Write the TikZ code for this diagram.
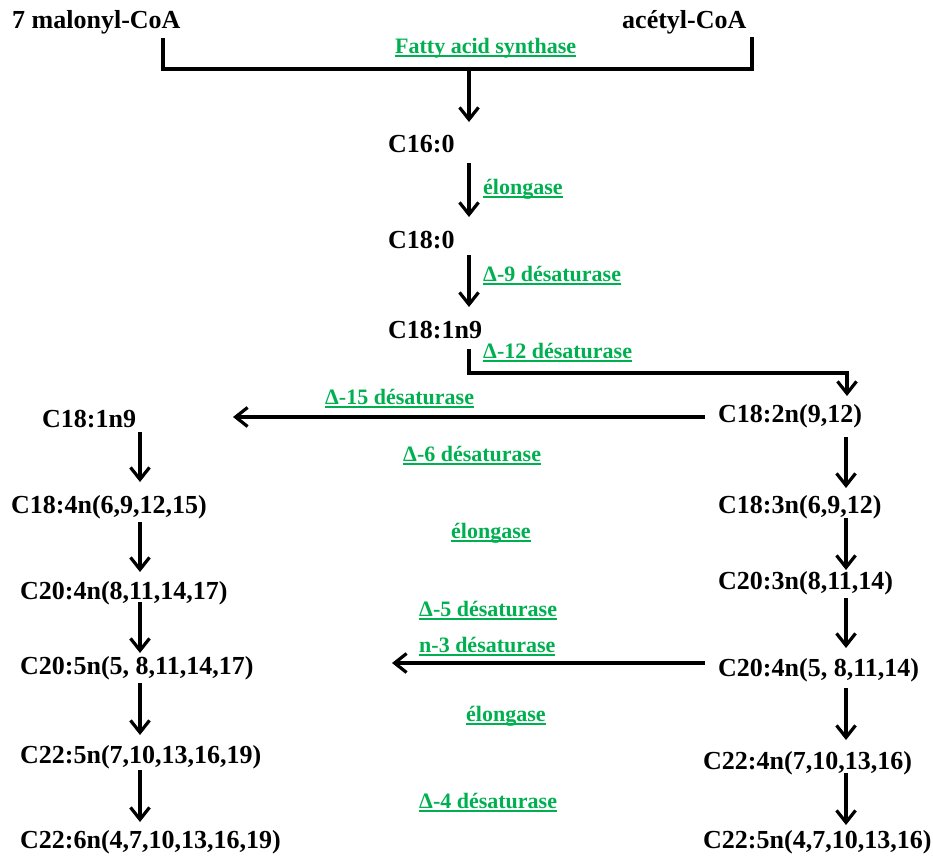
\documentclass[tikz,border=0pt]{standalone}
\usepackage{fontspec}
\setmainfont{Liberation Serif}
\usetikzlibrary{arrows.meta}
\definecolor{fasgreen}{RGB}{0,176,80}
\newcommand\ulx[1]{\setbox0\hbox{#1}\rlap{\rule[-3.5pt]{\wd0}{2pt}}\box0}
\begin{document}
\begin{tikzpicture}[x=1pt,y=-1pt,
  blk/.style={font=\bfseries\fontsize{26}{30}\selectfont, inner sep=0pt, anchor=base west},
  grn/.style={font=\bfseries\fontsize{22}{26}\selectfont, text=fasgreen, inner sep=0pt, anchor=base west},
  ln/.style={line width=3.2pt, black},
  arr/.style={ln, -{Straight Barb[length=12pt,width=19pt,line width=3.2pt]}}]
\useasboundingbox (0,0) rectangle (933,861);
% substrates
\node[blk] (mal) at (12,29) {7 malonyl-CoA};
\node[blk] (ace) at (622,29) {acétyl-CoA};
\node[grn] (fas) at (395,54) {\ulx{Fatty acid synthase}};
% central chain
\node[blk] (c160) at (388,153) {C16:0};
\node[blk] (c180) at (388,248) {C18:0};
\node[blk] (c181) at (388,338) {C18:1n9};
\node[grn] (e1) at (483,194) {\ulx{élongase}};
\node[grn] (d9) at (483,281) {\ulx{Δ-9 désaturase}};
\node[grn] (d12) at (483,358) {\ulx{Δ-12 désaturase}};
% right column
\node[blk] (r1) at (718,422) {C18:2n(9,12)};
\node[blk] (r2) at (718,513) {C18:3n(6,9,12)};
\node[blk] (r3) at (718,589) {C20:3n(8,11,14)};
\node[blk] (r4) at (718,676) {C20:4n(5, 8,11,14)};
\node[blk] (r5) at (703,769) {C22:4n(7,10,13,16)};
\node[blk] (r6) at (703,848) {C22:5n(4,7,10,13,16)};
% left column
\node[blk] (l1) at (42,427) {C18:1n9};
\node[blk] (l2) at (11,513) {C18:4n(6,9,12,15)};
\node[blk] (l3) at (20,599) {C20:4n(8,11,14,17)};
\node[blk] (l4) at (20,674) {C20:5n(5, 8,11,14,17)};
\node[blk] (l5) at (20,763) {C22:5n(7,10,13,16,19)};
\node[blk] (l6) at (20,848) {C22:6n(4,7,10,13,16,19)};
% middle enzyme labels
\node[grn] (d15) at (325,404) {\ulx{Δ-15 désaturase}};
\node[grn] (d6) at (403,461) {\ulx{Δ-6 désaturase}};
\node[grn] (e2) at (451,538) {\ulx{élongase}};
\node[grn] (d5) at (419,616) {\ulx{Δ-5 désaturase}};
\node[grn] (n3) at (419,652) {\ulx{n-3 désaturase}};
\node[grn] (e3) at (466,721) {\ulx{élongase}};
\node[grn] (d4) at (419,808) {\ulx{Δ-4 désaturase}};
% connector coordinates
\coordinate (bl) at (163,38);
\coordinate (blc) at (163,69);
\coordinate (brc) at (752,69);
\coordinate (br) at (752,37);
\coordinate (bm) at (469,69);
\coordinate (t1) at (469,122);
\coordinate (a2s) at (469,163); \coordinate (a2e) at (469,217);
\coordinate (a3s) at (469,255); \coordinate (a3e) at (469,307);
\coordinate (a4s) at (469,349); \coordinate (a4c1) at (469,373);
\coordinate (a4c2) at (847,373); \coordinate (a4e) at (847,396);
\coordinate (h1s) at (705,417); \coordinate (h1e) at (233,417);
\coordinate (h2s) at (705,663); \coordinate (h2e) at (392,663);
% connectors
\draw[ln] (bl) -- (blc) -- (brc) -- (br);
\draw[arr] (bm) -- (t1);
\draw[arr] (a2s) -- (a2e);
\draw[arr] (a3s) -- (a3e);
\draw[arr] (a4s) -- (a4c1) -- (a4c2) -- (a4e);
\draw[arr] (h1s) -- (h1e);
\draw[arr] (h2s) -- (h2e);
% right column arrows
\foreach \s/\e in {437/488, 518/570, 598/648, 688/740, 773/825}
  \draw[arr] (846,\s) -- (846,\e);
% left column arrows
\foreach \s/\e in {432/482, 522/572, 602/653, 683/735, 770/822}
  \draw[arr] (140,\s) -- (140,\e);
\end{tikzpicture}
\end{document}
